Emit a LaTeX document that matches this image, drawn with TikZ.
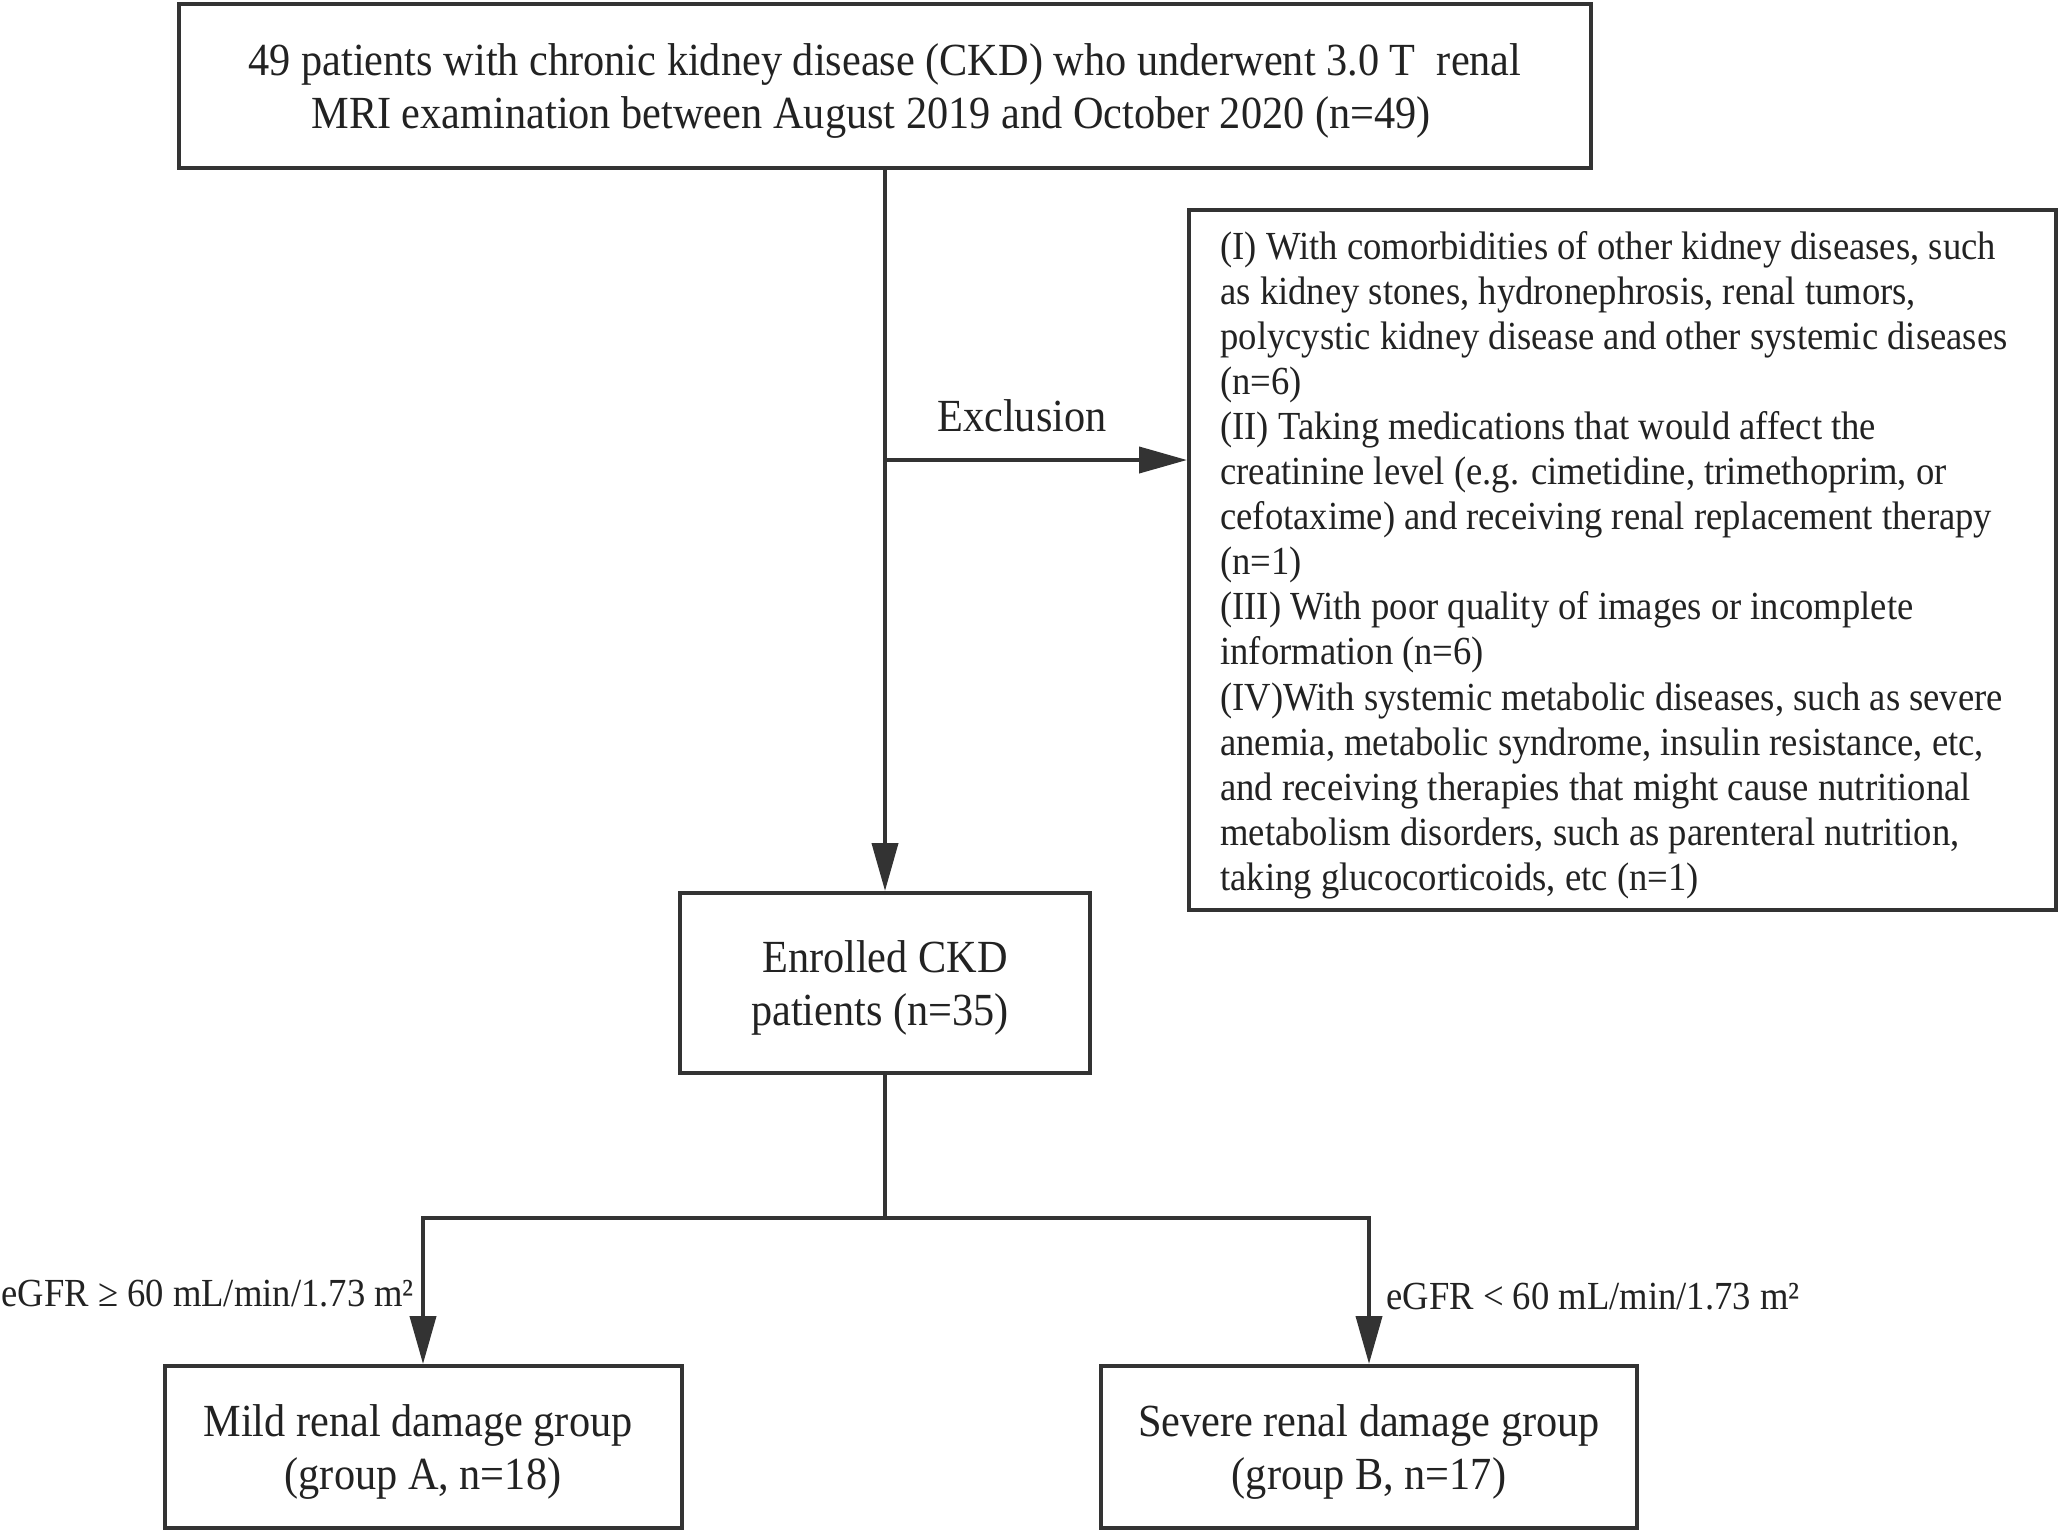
\documentclass[tikz,border=0pt]{standalone}
\usepackage{fontspec}
\setmainfont{Liberation Serif}[FakeStretch=0.92]
\usetikzlibrary{arrows.meta}
\definecolor{linec}{HTML}{333333}
\definecolor{textc}{HTML}{222222}
\begin{document}
\begin{tikzpicture}[x=0.5pt,y=-0.5pt,
  box/.style={draw=linec, line width=2pt, inner sep=0pt},
  boxtext/.style={inner sep=0pt, align=center, text=textc,
    font=\fontsize{23}{26.5}\selectfont},
  extext/.style={inner sep=0pt, align=left, text=textc, font=\fontsize{19.9}{22.55}\selectfont},
  lbl/.style={inner sep=0pt, text=textc, font=\fontsize{19.9}{22.5}\selectfont},
  biglbl/.style={inner sep=0pt, text=textc, font=\fontsize{23}{26.5}\selectfont},
  arr/.style={draw=linec, line width=2pt, -{Triangle[length=24pt,width=13pt]}},
  ln/.style={draw=linec, line width=2pt}]
\useasboundingbox (0,0) rectangle (2060,1533);

\node[box, minimum width=706pt, minimum height=82pt] (top) at (885,86) {};
\node[boxtext] (topT) at ([yshift=-2.5pt]top.center)
  {49 patients with chronic kidney disease (CKD) who underwent 3.0 T\ \ renal\\
   MRI examination between August 2019 and October 2020 (n=49)\hspace*{14pt}};

\node[box, minimum width=433.5pt, minimum height=350pt] (excl) at (1622.5,560) {};
\node[extext, anchor=west] (exT) at ([xshift=16.5pt,yshift=-2.5pt]excl.west)
  {(I) With comorbidities of other kidney diseases, such\\
   as kidney stones, hydronephrosis, renal tumors,\\
   polycystic kidney disease and other systemic diseases\\
   (n=6)\\
   (II) Taking medications that would affect the\\
   creatinine level (e.g. cimetidine, trimethoprim, or\\
   cefotaxime) and receiving renal replacement therapy\\
   (n=1)\\
   (III) With poor quality of images or incomplete\\
   information (n=6)\\
   (IV)With systemic metabolic diseases, such as severe\\
   anemia, metabolic syndrome, insulin resistance, etc,\\
   and receiving therapies that might cause nutritional\\
   metabolism disorders, such as parenteral nutrition,\\
   taking glucocorticoids, etc (n=1)};

\node[box, minimum width=205pt, minimum height=90pt] (enr) at (885,983) {};
\node[boxtext] (enrT) at ([yshift=-2.5pt]enr.center)
  {Enrolled CKD\\patients (n=35)\hspace*{5pt}};

\node[box, minimum width=258.5pt, minimum height=81pt] (mild) at (423,1447) {};
\node[boxtext] (mildT) at ([yshift=-2.5pt]mild.center)
  {Mild renal damage group\hspace*{5pt}\\(group A, n=18)};
\node[box, minimum width=268pt, minimum height=81pt] (sev) at (1369,1447) {};
\node[boxtext] (sevT) at ([yshift=-2.5pt]sev.center)
  {Severe renal damage group\\(group B, n=17)};

\draw[arr] (top.south) -- (enr.north);
\coordinate (ex) at (887,460);
\draw[arr] (ex) -- (excl.west |- ex);
\node[biglbl] (exl) at (1022,416) {Exclusion};

\coordinate (br) at (885,1218);
\draw[ln] (enr.south) -- (br);
\draw[arr] (br) -| (mild.north);
\draw[arr] (br) -| (sev.north);

\node[lbl, anchor=west] (l1) at (1,1294) {eGFR ≥ 60 mL/min/1.73 m²};
\node[lbl, anchor=west] (l2) at (1386,1297) {eGFR < 60 mL/min/1.73 m²};
\end{tikzpicture}
\end{document}
